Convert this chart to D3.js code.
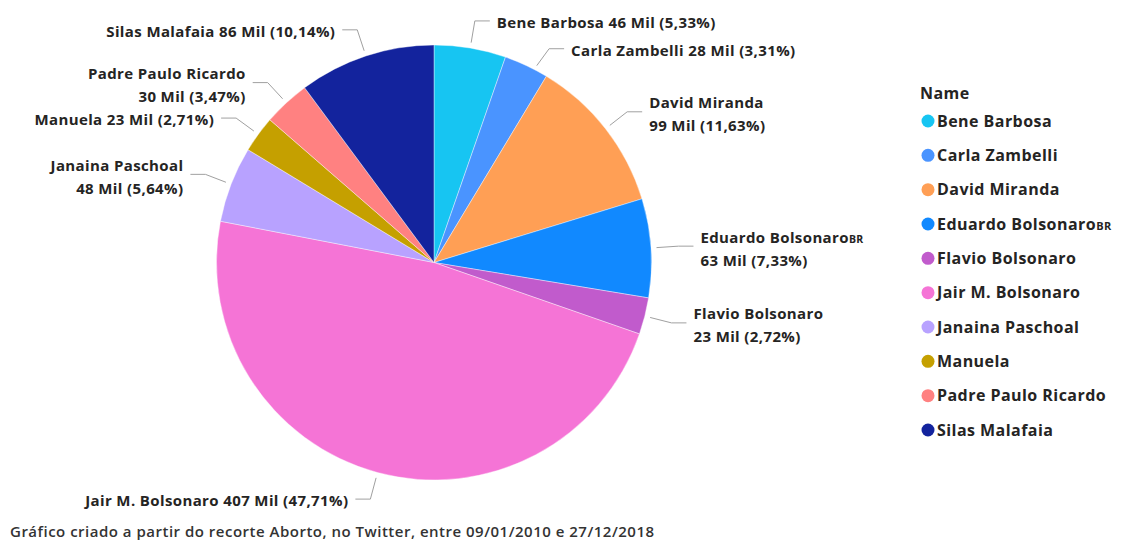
<!DOCTYPE html>
<html>
<head>
<meta charset="utf-8">
<script src="https://cdn.jsdelivr.net/npm/d3@7"></script>
<style>
  html, body { margin: 0; padding: 0; background: #fff; }
  svg { display: block; }
  text { font-family: "Open Sans", "Noto Sans", sans-serif; }
</style>
</head>
<body>
<svg id="chart" width="1125" height="544"></svg>
<script>
// ---- data ----
const names = ["Bene Barbosa", "Carla Zambelli", "David Miranda", "Eduardo Bolsonaro", "Flavio Bolsonaro",
               "Jair M. Bolsonaro", "Janaina Paschoal", "Manuela", "Padre Paulo Ricardo", "Silas Malafaia"];
const nameSuffix = ["", "", "", "BR", "", "", "", "", "", ""];
const valuesMil = [46, 28, 99, 63, 23, 407, 48, 23, 30, 86];
const percents = [5.33, 3.31, 11.63, 7.33, 2.72, 47.71, 5.64, 2.71, 3.47, 10.14];
const twoLine = [false, false, true, true, true, false, true, false, true, false];
const colors = ["#17C5F2", "#4A94FF", "#FF9F55", "#1189FF", "#C15BCC",
                "#F574D6", "#B8A2FF", "#C5A000", "#FF8181", "#13239D"];
const legendTitle = "Name";
const footer = "Gráfico criado a partir do recorte Aborto, no Twitter, entre 09/01/2010 e 27/12/2018";

const data = names.map((n, i) => ({ name: n, suffix: nameSuffix[i], mil: valuesMil[i], pct: percents[i], two: twoLine[i], color: colors[i] }));

const svg = d3.select("#chart");
const cx = 434, cy = 262.5, R = 217.5;
const textColor = "#252423";

const pie = d3.pie().sort(null).value(d => d.pct).startAngle(0).endAngle(2 * Math.PI);
const arc = d3.arc().innerRadius(0).outerRadius(R);
const arcs = pie(data);

const g = svg.append("g").attr("transform", `translate(${cx},${cy})`);
g.selectAll("path.slice").data(arcs).enter().append("path")
  .attr("class", "slice")
  .attr("d", arc)
  .attr("fill", d => d.data.color)
  .attr("stroke", "#fff").attr("stroke-width", 0.4);

const fmtPct = v => "(" + v.toFixed(2).replace(".", ",") + "%)";
const pt = (a, r) => [r * Math.sin(a), -r * Math.cos(a)];

const labelFont = 15;
arcs.forEach((d, i) => {
  let mid = (d.startAngle + d.endAngle) / 2;
  const right = Math.sin(mid) >= 0;
  const p0 = pt(mid, R + 5.5);
  const p1 = pt(mid, R + 27.5);
  // Carla's label is pushed down in the original to keep clear of Bene's
  if (d.data.name === "Carla Zambelli") { p1[0] += 11; p1[1] += 8; p0[0] += 8; p0[1] += 5; }
  const dir = right ? 1 : -1;
  const p2 = [p1[0] + dir * 15, p1[1]];
  g.append("polyline")
    .attr("points", [p0, p1, p2].map(p => p.join(",")).join(" "))
    .attr("fill", "none").attr("stroke", "#a0a0a0").attr("stroke-width", 1);

  const tx = p1[0] + dir * 22;
  const t = g.append("text")
    .attr("x", tx).attr("text-anchor", right ? "start" : "end")
    .attr("font-size", labelFont).attr("font-weight", 700).attr("letter-spacing", 0.38)
    .attr("fill", textColor);
  const valStr = d.data.mil + " Mil " + fmtPct(d.data.pct);
  if (d.data.two) {
    const l1 = t.append("tspan").attr("x", tx).attr("y", p1[1] - 10 + 6.5);
    l1.append("tspan").text(d.data.name);
    if (d.data.suffix) l1.append("tspan").attr("font-size", 10.5).text(d.data.suffix);
    t.append("tspan").attr("x", tx).attr("y", p1[1] + 13 + 6.5).text(valStr);
  } else {
    t.attr("y", p1[1] + 7);
    t.append("tspan").text(d.data.name + (d.data.suffix ? "" : " "));
    if (d.data.suffix) { t.append("tspan").attr("font-size", 10.5).text(d.data.suffix + " "); }
    t.append("tspan").text(valStr);
  }
});

// ---- legend ----
const lg = svg.append("g").attr("transform", "translate(920,0)");
lg.append("text").attr("x", 0).attr("y", 99).attr("font-size", 16).attr("font-weight", 700)
  .attr("letter-spacing", 0.45).attr("fill", textColor).text(legendTitle);
const ly = d3.scalePoint().domain(names).range([121, 430]);
const items = lg.selectAll("g.item").data(data).enter().append("g").attr("class", "item")
  .attr("transform", d => `translate(0,${ly(d.name)})`);
items.append("circle").attr("cx", 8).attr("cy", 0).attr("r", 6.5).attr("fill", d => d.color);
const lt = items.append("text").attr("x", 17).attr("y", 5.5).attr("font-size", 16).attr("font-weight", 700)
  .attr("letter-spacing", 0.45).attr("fill", textColor);
lt.append("tspan").text(d => d.name);
lt.filter(d => d.suffix).append("tspan").attr("font-size", 11).text(d => d.suffix);

// ---- footer ----
svg.append("text").attr("x", 10).attr("y", 537).attr("font-size", 15).attr("font-weight", 600)
  .attr("letter-spacing", 0.5).attr("fill", "#333").text(footer);
</script>
</body>
</html>
